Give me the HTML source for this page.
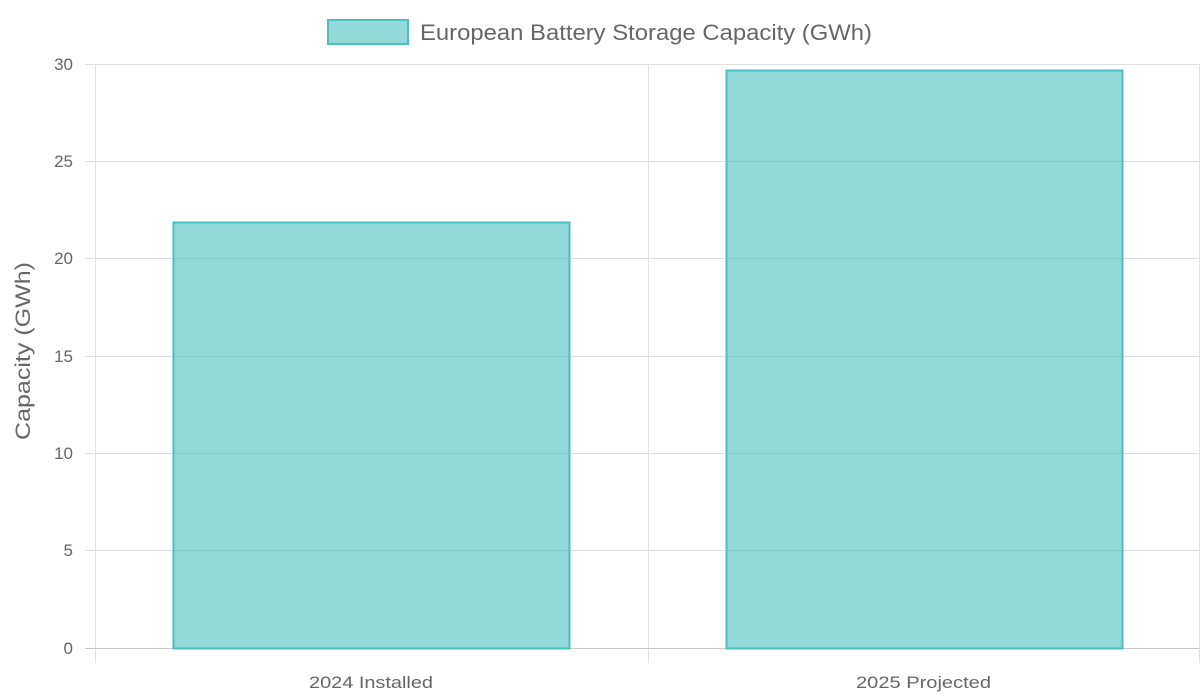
<!DOCTYPE html>
<html><head><meta charset="utf-8"><style>
html,body{margin:0;padding:0;background:#fff;}
svg{display:block;font-family:"Liberation Sans",Arial,sans-serif;}
</style></head><body>
<svg width="1200" height="700" xmlns="http://www.w3.org/2000/svg">
<rect width="1200" height="700" fill="#fff"/>
<g stroke="#e0e0e0" stroke-width="1">
<line x1="85" y1="64.5" x2="1199" y2="64.5"/>
<line x1="85" y1="161.5" x2="1199" y2="161.5"/>
<line x1="85" y1="258.5" x2="1199" y2="258.5"/>
<line x1="85" y1="356.5" x2="1199" y2="356.5"/>
<line x1="85" y1="453.5" x2="1199" y2="453.5"/>
<line x1="85" y1="550.5" x2="1199" y2="550.5"/>
<line x1="95.5" y1="64" x2="95.5" y2="663"/>
<line x1="648.5" y1="64" x2="648.5" y2="663"/>
<line x1="1199.5" y1="64" x2="1199.5" y2="663"/>
</g>
<line x1="85" y1="648.5" x2="1199" y2="648.5" stroke="#c8c8c8"/>
<rect x="173.5" y="222.5" width="396" height="426" fill="rgba(75,192,192,0.6)" stroke="#4bc0c0" stroke-width="2"/>
<rect x="726.5" y="70.5" width="396" height="578" fill="rgba(75,192,192,0.6)" stroke="#4bc0c0" stroke-width="2"/>
<g fill="#666" font-size="17" text-anchor="end">
<text x="73" y="70">30</text>
<text x="73" y="167">25</text>
<text x="73" y="264">20</text>
<text x="73" y="362">15</text>
<text x="73" y="459">10</text>
<text x="73" y="556">5</text>
<text x="73" y="654">0</text>
</g>
<g fill="#666" font-size="17">
<text x="309" y="688" textLength="124" lengthAdjust="spacingAndGlyphs">2024 Installed</text>
<text x="856" y="688" textLength="135" lengthAdjust="spacingAndGlyphs">2025 Projected</text>
</g>
<text transform="translate(30,440) rotate(-90)" fill="#666" font-size="21" textLength="178" lengthAdjust="spacingAndGlyphs">Capacity (GWh)</text>
<rect x="328" y="20" width="80" height="24" fill="rgba(75,192,192,0.6)" stroke="#4bc0c0" stroke-width="2"/>
<text x="420" y="40" fill="#666" font-size="22" textLength="452" lengthAdjust="spacingAndGlyphs">European Battery Storage Capacity (GWh)</text>
</svg>
</body></html>
